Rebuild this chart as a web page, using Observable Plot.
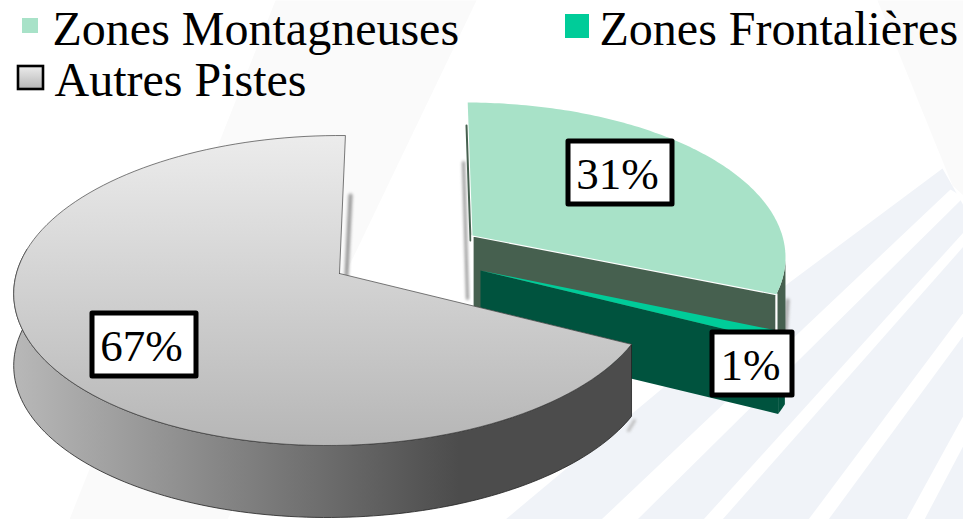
<!DOCTYPE html>
<html><head><meta charset="utf-8">
<style>html,body{margin:0;padding:0;background:#fff;overflow:hidden}svg{display:block}</style>
<script src="https://cdn.jsdelivr.net/npm/d3@7"></script>
<script src="https://cdn.jsdelivr.net/npm/@observablehq/plot@0.6"></script>
</head><body><div id="chart"></div>
<script>
// ---- data
const categories = ["Zones Montagneuses", "Zones Frontalières", "Autres Pistes"];
const shares = [31, 1, 67];
const labels = ["31%", "1%", "67%"];
const topColors = ["#a8e2c8", "#00cc99", "url(#pieTop)"];
const wallColors = ["#46604f", "#00533e", "url(#pieWall)"];

// ---- layout of the tilted pie
const W = 963, H = 519;
const FONT = "Liberation Serif";
const radiusX = 320, radiusY = 155, depth = 72;
const tilt = radiusY / radiusX;
const base = {ax: 339, ay: 273, cx: 334, cy: 290};
const explode = [
  {dx: 133, dy: -38, lean: 0, rot: -1, cxAdj: -2, cyAdj: 5},
  {dx: 141, dy: -3, lean: 0, rot: 0, cxAdj: 3, cyAdj: 0},
  {dx: 0, dy: 0, lean: -0.043, rot: 0, cxAdj: 0, cyAdj: 0}
];
const labelBoxes = [{cx: 620, cy: 172.5, w: 104, h: 63, tx: 617}, {cx: 752, cy: 363.5, w: 80, h: 63, tx: 750}, {cx: 144, cy: 344.5, w: 104, h: 63, tx: 141}];
const legendRows = [{x: 52, y: 44, sx1: 22, sx2: 38, sy1: 18, sy2: 33}, {x: 599, y: 44, sx1: 565, sx2: 589, sy1: 14, sy2: 38}, {x: 54, y: 95, sx1: 18, sx2: 43, sy1: 66, sy2: 89}];

// ---- faint backdrop of the slide
const backdrop = [
  {fill: "#fafafa", pts: [[275,0],[476,0],[227,519],[69,519]]},
  {fill: "#fafafa", pts: [[877,0],[963,0],[963,195],[952,185]]},
  {fill: "#f0f3f8", pts: [[942,168],[963,205],[963,519],[505,519],[785,285]]},
  {fill: "#ffffff", pts: [[950,189],[963,197],[637,519],[601,519]]},
  {fill: "#ffffff", pts: [[963,232],[963,246],[722,519],[703,519]]},
  {fill: "#ffffff", pts: [[963,312],[963,335],[828,519],[808,519]]},
  {fill: "#ffffff", pts: [[963,415],[963,445],[924,519],[906,519]]}
];

// ---- pie geometry from the values
const arcs = d3.pie().sort(null).value(d => d)(shares);
const slices = arcs.map((a, i) => {
  const e = explode[i];
  const ax = base.ax + e.dx, ay = base.ay + e.dy, cx = base.cx + e.dx + e.cxAdj, cy = base.cy + e.dy + e.cyAdj;
  const rot = e.rot * Math.PI / 180;
  const hit = t => {
    const dx = Math.sin(t), dy = -Math.cos(t) * tilt;
    const ox = (ax - cx) / radiusX, oy = (ay - cy) / radiusY, px = dx / radiusX, py = dy / radiusY;
    const A = px*px + py*py, B = 2*(ox*px + oy*py), C = ox*ox + oy*oy - 1;
    const s = (-B + Math.sqrt(B*B - 4*A*C)) / (2*A);
    const x = ax + s*dx, y = ay + s*dy;
    return [x + e.lean * (y - ay), y];
  };
  const arcPts = (t0, t1, n = 120) => d3.range(n + 1).map(k => hit(t0 + (t1 - t0) * k / n));
  return {i, ax, ay, hit, arcPts, start: a.startAngle + rot, end: a.endAngle + rot};
});
const poly = pts => [...pts, pts[0]].map(p => ({x: p[0], y: p[1]}));
const drop = p => [p[0], p[1] + depth];
const topPoly = s => poly([[s.ax, s.ay], ...s.arcPts(s.start, s.end)]);
const outerWall = (s, t0, t1) => { const a = s.arcPts(t0, t1); return poly([...a, ...a.slice().reverse().map(drop)]); };
const radialFace = (s, t) => { const p = s.hit(t), q = [s.ax, s.ay]; return poly([q, p, drop(p), drop(q)]); };

const [green, bright, grey] = slices;
const line = (pts, o) => Plot.line(poly(pts).slice(0, -1), {x: "x", y: "y", ...o});
const fillPoly = (data, fill, o = {}) => Plot.line(data, {x: "x", y: "y", fill, stroke: "none", ...o});

const defs = () => {
  const g = d3.create("svg:defs");
  const grad = (id, x2, y2, stops) => {
    const l = g.append("linearGradient").attr("id", id).attr("x1", 0).attr("y1", 0).attr("x2", x2).attr("y2", y2);
    stops.forEach(([o, c]) => l.append("stop").attr("offset", o).attr("stop-color", c));
  };
  grad("pieTop", 0, 1, [[0, "#ececec"], [1, "#b6b6b6"]]);
  grad("pieWall", 1, 0, [[0, "#b8b8b8"], [0.72, "#4c4c4c"], [1, "#4c4c4c"]]);
  return g.node();
};

const plot = Plot.plot({
  width: W, height: H, margin: 0,
  x: {domain: [0, W], range: [0, W], axis: null},
  y: {domain: [0, H], range: [0, H], axis: null},
  marks: [
    defs,
    ...backdrop.map(b => fillPoly(poly(b.pts), b.fill)),
    // soft shadows behind the radial edges
    line([[463,162],[467,298]], {stroke: "#999", strokeWidth: 3, imageFilter: "blur(1.5px)"}),
    line([[350,195],[346,275]], {stroke: "#999", strokeWidth: 4, imageFilter: "blur(1.5px)"}),
    line([[787,300],[785,330]], {stroke: "#aaa", strokeWidth: 4, imageFilter: "blur(1.5px)"}),
    line([[634,420],[628,430]], {stroke: "#bbb", strokeWidth: 3, imageFilter: "blur(1.5px)"}),
    // mountain slice
    line([[466,125],[470,240]], {stroke: wallColors[0], strokeWidth: 2}),
    fillPoly(outerWall(green, 1.7, green.end), wallColors[0]),
    fillPoly(radialFace(green, green.end), wallColors[0], {stroke: "#fff", strokeWidth: 2.2}),
    fillPoly(topPoly(green), topColors[0]),
    // frontier slice
    fillPoly(outerWall(bright, bright.start, bright.end), wallColors[1]),
    fillPoly(radialFace(bright, bright.end), wallColors[1]),
    fillPoly(topPoly(bright), topColors[1]),
    // other tracks slice
    fillPoly(outerWall(grey, grey.start, Math.PI * 1.55), wallColors[2], {stroke: "#222", strokeWidth: 0.8}),
    fillPoly(topPoly(grey), topColors[2], {stroke: "#444", strokeWidth: 0.7}),
    // percentage boxes
    Plot.rect(labelBoxes, {x1: d => d.cx - d.w/2, x2: d => d.cx + d.w/2, y1: d => d.cy - d.h/2, y2: d => d.cy + d.h/2, fill: "#fff", stroke: "#000", strokeWidth: 5, strokeLinejoin: "round"}),
    Plot.text(labels, {x: (d, i) => labelBoxes[i].tx, y: (d, i) => labelBoxes[i].cy + 2, text: d => d, fontSize: 45, fontFamily: FONT, fill: "#000"}),
    // legend
    ...legendRows.map((r, i) => Plot.rect([r], {x1: "sx1", x2: "sx2", y1: "sy1", y2: "sy2", fill: topColors[i], stroke: i === 2 ? "#000" : "none", strokeWidth: 2.6})),
    Plot.text(categories, {x: (d, i) => legendRows[i].x, y: (d, i) => legendRows[i].y - 15, text: d => d, textAnchor: "start", fontSize: 48, fontFamily: FONT, fill: "#000"})
  ]
});
document.getElementById("chart").append(plot);
</script></body></html>
